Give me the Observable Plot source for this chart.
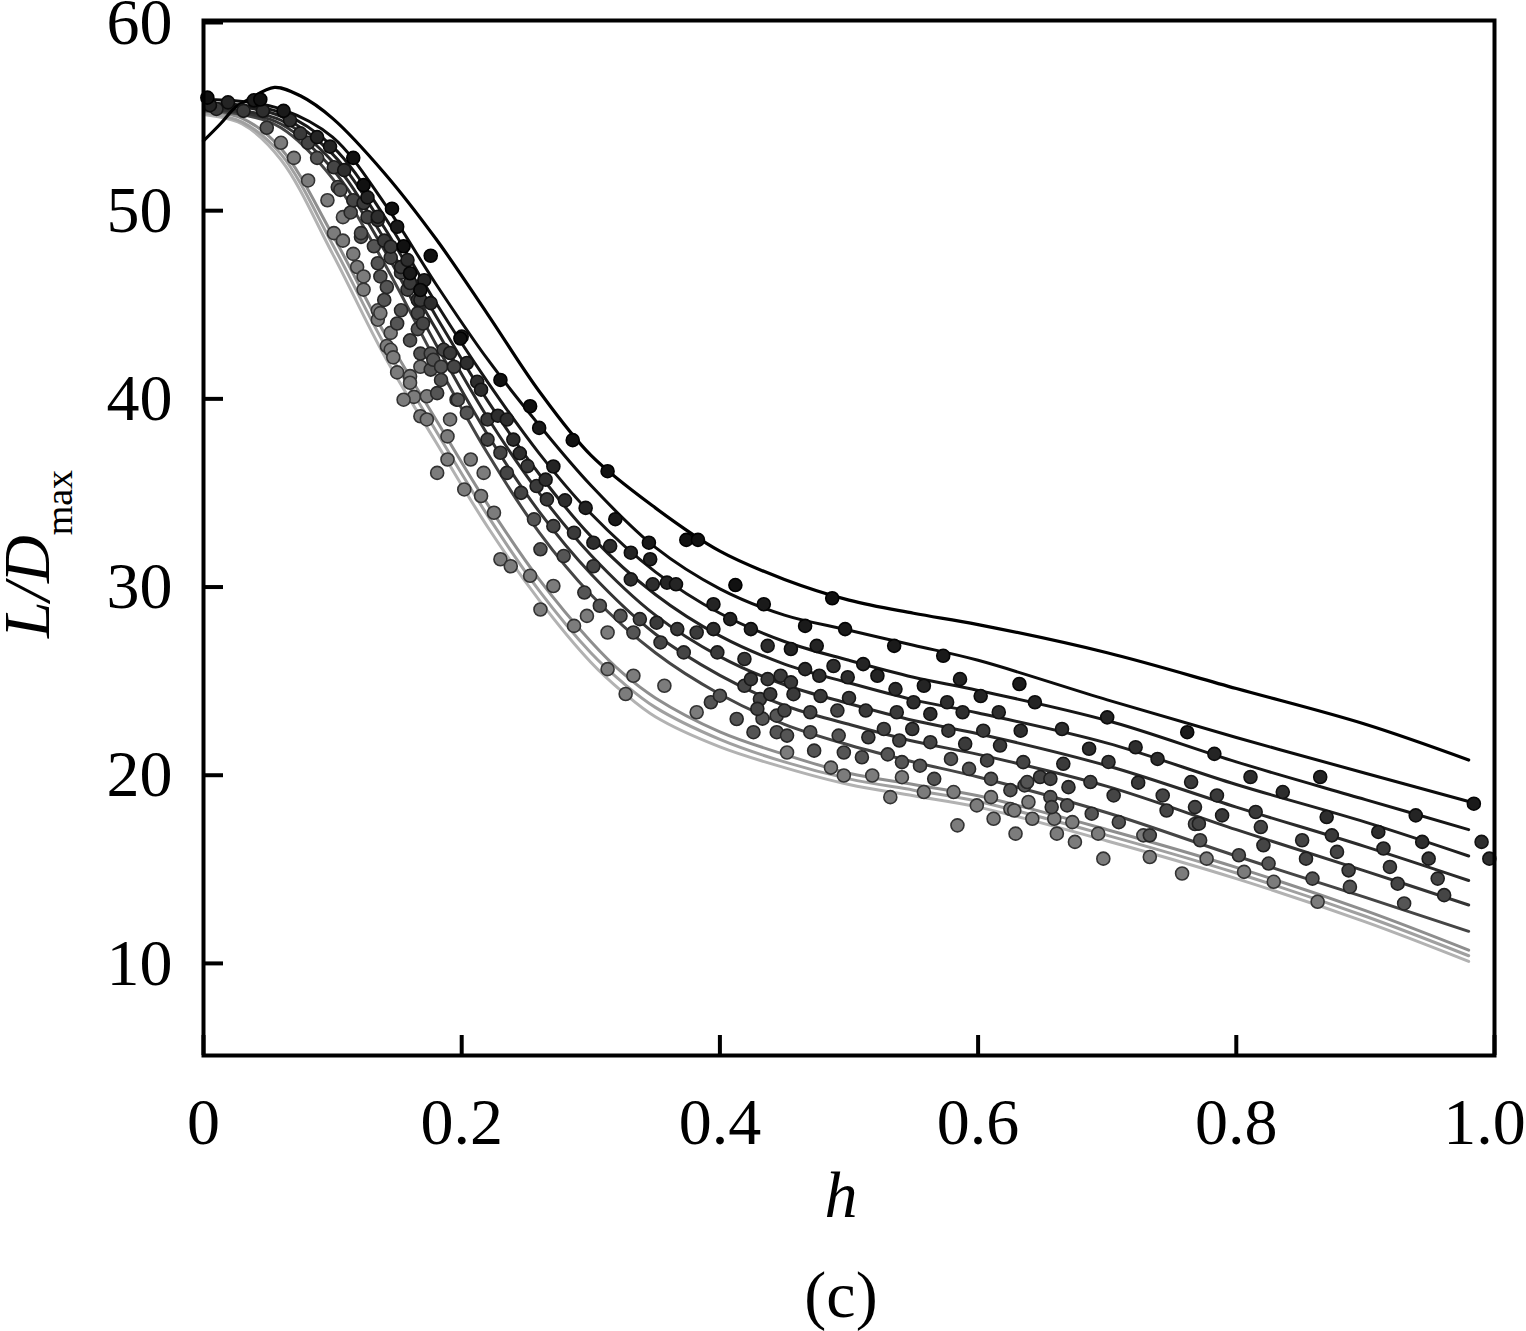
<!DOCTYPE html>
<html><head><meta charset="utf-8">
<script src="https://cdn.jsdelivr.net/npm/d3@7"></script>
<script src="https://cdn.jsdelivr.net/npm/@observablehq/plot@0.6"></script>
<style>body{margin:0;background:#fff} #chart{width:1526px;height:1331px;}</style>
</head><body><div id="chart"></div>
<script>
// ---- axis ticks ----
const xTicks = [0, 0.2, 0.4, 0.6, 0.8, 1.0];
const xTickLabels = ["0", "0.2", "0.4", "0.6", "0.8", "1.0"];
const yTicks = [10, 20, 30, 40, 50, 60];

// ---- fitted curves (h, L/Dmax) ----
const h1 = [0, 0.013, 0.025, 0.035, 0.055, 0.075, 0.1, 0.14, 0.18, 0.22, 0.26, 0.3, 0.35, 0.4, 0.45, 0.5, 0.55, 0.6, 0.7, 0.8, 0.9, 0.98];
const curve1 = [53.6, 54.5, 55.4, 55.8, 56.45, 56.0, 54.8, 51.9, 48.4, 44.4, 40.3, 36.9, 34.1, 31.8, 30.3, 29.2, 28.5, 27.9, 26.4, 24.5, 22.6, 20.7];
const hGrid = [0, 0.03, 0.06, 0.1, 0.14, 0.18, 0.22, 0.26, 0.3, 0.35, 0.4, 0.45, 0.5, 0.55, 0.6, 0.7, 0.8, 0.9, 0.98];
const curve2 = [55.8, 55.7, 55.3, 53.8, 50.3, 46.0, 42.0, 38.5, 35.3, 32.0, 29.8, 28.4, 27.6, 26.8, 26.0, 23.9, 21.9, 20.0, 18.5];
const curve3 = [55.6, 55.5, 55.1, 53.3, 49.6, 45.0, 40.8, 37.0, 33.8, 30.7, 28.5, 27.0, 26.0, 25.1, 24.4, 22.8, 20.6, 18.6, 17.0];
const curve4 = [55.5, 55.4, 54.9, 52.9, 49.0, 44.3, 39.8, 35.9, 32.6, 29.5, 27.3, 25.8, 24.8, 23.9, 23.2, 21.6, 19.4, 17.4, 15.6];
const curve5 = [55.4, 55.2, 54.7, 52.5, 48.4, 43.6, 38.9, 34.9, 31.6, 28.4, 26.2, 24.7, 23.7, 22.8, 22.1, 20.4, 18.2, 16.1, 14.3];
const curve6 = [55.3, 55.1, 54.5, 52.1, 47.8, 42.8, 38.0, 33.9, 30.6, 27.4, 25.2, 23.6, 22.6, 21.7, 21.0, 19.3, 17.0, 14.8, 13.0];
const curve7 = [55.2, 55.0, 54.3, 51.6, 47.1, 41.9, 37.0, 32.8, 29.5, 26.4, 24.2, 22.6, 21.5, 20.6, 19.8, 17.9, 15.6, 13.4, 11.6];
const hGray = [0, 0.03, 0.06, 0.1, 0.14, 0.18, 0.22, 0.26, 0.3, 0.325, 0.35, 0.4, 0.45, 0.5, 0.55, 0.6, 0.7, 0.8, 0.9, 0.98];
const curve8 = [55.2, 54.8, 53.2, 48.6, 43.4, 38.8, 34.3, 30.3, 27.0, 25.3, 24.0, 22.2, 21.0, 20.0, 19.4, 18.8, 17.0, 15.0, 12.7, 10.6];
const curve9 = [55.1, 54.6, 52.9, 48.1, 42.8, 38.2, 33.7, 29.7, 26.4, 24.8, 23.5, 21.8, 20.6, 19.7, 19.1, 18.5, 16.7, 14.7, 12.4, 10.3];
const curve10 = [55.0, 54.5, 52.6, 47.6, 42.2, 37.6, 33.1, 29.2, 25.9, 24.3, 23.0, 21.4, 20.3, 19.4, 18.8, 18.2, 16.4, 14.4, 12.1, 10.0];
const lineColors = ["#000000", "#0c0c0c", "#161616", "#202020", "#2a2a2a", "#343434", "#454545", "#8e8e8e", "#a0a0a0", "#b2b2b2"];

// ---- data points [h, L/Dmax] grouped from darkest to lightest ----
const pts1 = [[0.003,55.9],[0.044,55.8],[0.116,52.7],[0.124,51.25],[0.146,50.0],[0.155,48.0],[0.176,47.5],[0.199,43.1],[0.23,40.9],[0.253,39.5],[0.286,37.7],[0.313,36.05],[0.374,32.4],[0.383,32.4],[0.412,30.0],[0.487,29.3]];
const pts2 = [[0.039,55.76],[0.062,55.2],[0.15,49.04],[0.16,46.57],[0.168,45.68],[0.26,38.35],[0.319,33.5],[0.345,32.25],[0.434,28.98],[0.466,27.83],[0.497,27.66],[0.535,26.77],[0.573,26.24],[0.632,24.74],[0.762,22.18],[0.984,18.38]];
const pts3 = [[0.005,55.5],[0.019,55.65],[0.088,53.8],[0.098,53.3],[0.127,50.6],[0.171,46.2],[0.2,43.2],[0.271,36.3],[0.296,34.1],[0.331,31.72],[0.346,31.37],[0.359,30.13],[0.366,30.04],[0.395,28.98],[0.408,28.19],[0.424,27.66],[0.455,26.6],[0.475,26.77],[0.511,25.8],[0.522,25.18],[0.558,24.65],[0.586,25.0],[0.602,24.1],[0.644,23.77],[0.70,22.97],[0.783,21.03],[0.865,19.8],[0.939,17.76]];
const pts4 = [[0.046,55.2],[0.067,54.7],[0.109,52.05],[0.135,49.57],[0.158,47.27],[0.176,44.98],[0.204,41.8],[0.212,40.8],[0.215,40.38],[0.228,39.0],[0.235,38.8],[0.24,37.73],[0.245,37.0],[0.265,35.6],[0.28,34.5],[0.302,32.25],[0.315,32.07],[0.331,30.3],[0.348,30.04],[0.395,27.66],[0.437,26.77],[0.466,25.53],[0.477,25.18],[0.488,25.7],[0.499,25.1],[0.536,24.47],[0.55,23.77],[0.563,23.15],[0.576,23.77],[0.588,23.24],[0.616,23.24],[0.633,22.26],[0.665,22.35],[0.686,21.3],[0.722,21.38],[0.739,20.76],[0.811,19.8],[0.836,19.0],[0.870,17.67],[0.91,16.88],[0.944,16.35],[0.99,16.35],[0.996,15.46]];
const pts5 = [[0.01,55.3],[0.031,55.2],[0.075,54.0],[0.124,50.3],[0.135,49.4],[0.14,48.3],[0.145,47.98],[0.153,46.9],[0.16,46.05],[0.166,45.15],[0.168,45.15],[0.191,42.33],[0.22,38.8],[0.251,36.32],[0.258,35.26],[0.266,34.55],[0.287,32.78],[0.351,28.0],[0.367,27.66],[0.382,27.48],[0.398,26.42],[0.419,26.07],[0.424,25.0],[0.437,25.0],[0.447,25.18],[0.455,24.83],[0.439,24.2],[0.457,24.2],[0.478,24.1],[0.5,24.0],[0.513,23.33],[0.537,23.24],[0.549,22.35],[0.577,22.26],[0.604,22.26],[0.59,21.56],[0.617,21.47],[0.666,20.5],[0.701,20.6],[0.724,19.5],[0.765,19.53],[0.785,18.82],[0.789,17.76],[0.815,17.94],[0.874,16.7],[0.914,16.0],[0.949,15.46]];
const pts6 = [[0.081,53.5],[0.101,52.2],[0.116,50.45],[0.127,49.55],[0.145,47.4],[0.153,46.6],[0.158,45.7],[0.166,44.45],[0.17,43.9],[0.186,42.5],[0.194,41.6],[0.22,37.73],[0.23,37.03],[0.235,35.96],[0.246,34.9],[0.271,33.13],[0.302,31.0],[0.338,28.19],[0.354,26.95],[0.372,26.42],[0.419,24.65],[0.431,23.94],[0.429,23.42],[0.45,23.33],[0.47,23.24],[0.491,23.33],[0.515,21.91],[0.527,22.35],[0.539,21.74],[0.563,21.65],[0.607,20.68],[0.635,20.59],[0.648,19.8],[0.656,19.7],[0.67,19.26],[0.687,19.53],[0.705,18.82],[0.743,18.82],[0.746,18.02],[0.768,18.2],[0.771,17.32],[0.819,17.14],[0.821,16.17],[0.851,16.44],[0.854,15.46],[0.878,15.82],[0.887,14.84],[0.919,15.02],[0.925,14.13],[0.956,14.4],[0.961,13.52]];
const pts7 = [[0.049,54.3],[0.088,52.7],[0.104,51.15],[0.106,51.0],[0.114,49.8],[0.122,48.5],[0.122,48.7],[0.132,48.0],[0.135,47.1],[0.137,46.4],[0.14,45.15],[0.142,45.84],[0.15,43.9],[0.153,44.6],[0.16,43.0],[0.166,43.6],[0.168,42.3],[0.176,41.45],[0.176,42.3],[0.178,41.97],[0.181,40.2],[0.184,40.9],[0.184,41.6],[0.196,39.85],[0.197,39.85],[0.204,39.15],[0.256,33.49],[0.261,31.9],[0.279,31.54],[0.295,29.6],[0.307,28.9],[0.323,28.36],[0.333,27.48],[0.393,23.77],[0.4,24.12],[0.413,22.88],[0.426,22.18],[0.433,22.9],[0.444,23.06],[0.444,22.18],[0.452,22.0],[0.47,22.18],[0.473,21.2],[0.492,22.0],[0.496,21.1],[0.51,20.85],[0.53,21.0],[0.541,20.59],[0.555,20.4],[0.566,19.7],[0.579,20.76],[0.593,20.23],[0.61,19.7],[0.625,19.1],[0.636,19.35],[0.638,19.53],[0.656,18.73],[0.657,18.2],[0.669,18.29],[0.688,17.85],[0.709,17.4],[0.733,16.7],[0.768,17.3],[0.772,16.44],[0.802,15.64],[0.825,15.2],[0.859,14.4],[0.888,13.96],[0.93,13.08]];
const pts8 = [[0.06,53.5],[0.07,52.7],[0.081,51.5],[0.096,50.45],[0.101,48.7],[0.108,49.55],[0.108,48.3],[0.116,47.6],[0.119,46.9],[0.124,46.4],[0.124,45.7],[0.135,44.6],[0.135,44.1],[0.137,44.45],[0.142,42.7],[0.145,43.4],[0.145,42.5],[0.147,42.1],[0.15,41.3],[0.16,41.1],[0.16,40.75],[0.163,40.0],[0.155,39.85],[0.168,41.6],[0.173,40.03],[0.168,38.97],[0.173,38.8],[0.181,35.96],[0.189,37.9],[0.191,38.8],[0.189,36.67],[0.202,35.08],[0.207,36.67],[0.217,35.96],[0.215,34.73],[0.225,33.84],[0.23,31.37],[0.238,31.0],[0.253,30.49],[0.261,28.7],[0.271,29.95],[0.287,27.83],[0.297,28.36],[0.313,27.48],[0.313,25.53],[0.327,24.21],[0.333,25.18],[0.357,24.65],[0.382,23.24],[0.452,21.1],[0.486,20.3],[0.496,19.88],[0.518,19.88],[0.532,18.73],[0.541,19.79],[0.558,19.0],[0.581,19.0],[0.584,17.23],[0.599,18.29],[0.61,18.73],[0.612,17.58],[0.625,18.1],[0.628,18.02],[0.629,16.79],[0.639,18.47],[0.642,17.58],[0.659,17.58],[0.661,16.79],[0.673,17.4],[0.675,16.35],[0.693,16.79],[0.697,15.46],[0.728,16.7],[0.733,15.55],[0.758,14.67],[0.777,15.46],[0.806,14.76],[0.829,14.23],[0.863,13.17]];
const dotFill = ["#111111", "#1a1a1a", "#242424", "#2e2e2e", "#3a3a3a", "#454545", "#555555", "#7c7c7c"];
const dotStroke = ["#000000", "#050505", "#0b0b0b", "#121212", "#181818", "#1e1e1e", "#262626", "#333333"];

// ---- build tables ----
const curves = [
  {h: h1, v: curve1}, {h: hGrid, v: curve2}, {h: hGrid, v: curve3}, {h: hGrid, v: curve4},
  {h: hGrid, v: curve5}, {h: hGrid, v: curve6}, {h: hGrid, v: curve7}, {h: hGray, v: curve8},
  {h: hGray, v: curve9}, {h: hGray, v: curve10}
];
const ptGroups = [pts1, pts2, pts3, pts4, pts5, pts6, pts7, pts8];

const lineMarks = curves.map((c, i) => ({i, data: c.h.map((x, j) => ({h: x, v: c.v[j]}))}))
  .reverse()
  .map(({i, data}) => Plot.line(data, {x: "h", y: "v", stroke: lineColors[i], strokeWidth: i === 0 ? 3.2 : 3, curve: "catmull-rom"}));

const dotMarks = ptGroups.map((g, i) => ({i, data: g.map(([x, y]) => ({h: x, v: y}))}))
  .reverse()
  .map(({i, data}) => Plot.dot(data, {x: "h", y: "v", r: 6.5, fill: dotFill[i], stroke: dotStroke[i], strokeWidth: 1.6}));

const font = "'Liberation Serif', 'Times New Roman', serif";
const fmtX = d => xTickLabels[xTicks.indexOf(d)];

const chart = Plot.plot({
  width: 1526,
  height: 1331,
  marginLeft: 203,
  marginRight: 32,
  marginTop: 20,
  marginBottom: 276,
  style: {fontFamily: font, background: "white", color: "black"},
  x: {domain: [0, 1], label: null},
  y: {domain: [5, 60], label: null},
  marks: [
    ...lineMarks,
    ...dotMarks,
    Plot.axisX(xTicks, {anchor: "bottom", tickSize: -20, strokeWidth: 4, text: null, label: null}),
    Plot.axisX(xTicks.slice(0, -1), {anchor: "bottom", tickSize: 0, tickPadding: 42, fontSize: 66, tickFormat: fmtX, label: null}),
    Plot.axisX(xTicks.slice(-1), {anchor: "bottom", tickSize: 0, tickPadding: 42, fontSize: 66, dx: -10, tickFormat: fmtX, label: null}),
    Plot.axisY(yTicks, {anchor: "left", tickSize: -20, tickPadding: 51, strokeWidth: 4, fontSize: 66, dy: 2,
      tickFormat: d => String(d), label: null}),
    Plot.frame({stroke: "black", strokeWidth: 4})
  ]
});

document.getElementById("chart").appendChild(chart);

// ---- axis titles and panel caption ----
const svg = d3.select(chart);
const yl = svg.append("text")
  .attr("transform", "translate(49,554) rotate(-90)")
  .attr("text-anchor", "middle")
  .attr("font-family", font)
  .attr("font-size", 66)
  .attr("fill", "black");
yl.append("tspan").attr("font-style", "italic").text("L/D");
yl.append("tspan").attr("font-size", 38).attr("dy", 23).text("max");

svg.append("text")
  .attr("x", 841).attr("y", 1217)
  .attr("text-anchor", "middle")
  .attr("font-family", font)
  .attr("font-style", "italic")
  .attr("font-size", 66)
  .attr("fill", "black")
  .text("h");

svg.append("text")
  .attr("x", 841).attr("y", 1317)
  .attr("text-anchor", "middle")
  .attr("font-family", font)
  .attr("font-size", 66)
  .attr("fill", "black")
  .text("(c)");
</script>
</body></html>
